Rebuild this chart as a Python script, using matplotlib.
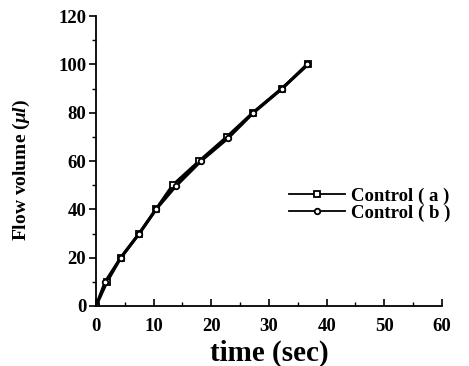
import numpy as np
import matplotlib.pyplot as plt
from matplotlib.ticker import MultipleLocator

plt.rcParams["font.family"] = "Liberation Serif"
plt.rcParams["font.weight"] = "bold"
plt.rcParams["mathtext.fontset"] = "custom"
plt.rcParams["mathtext.it"] = "Liberation Serif:italic:bold"
plt.rcParams["mathtext.rm"] = "Liberation Serif:bold"

# Flow volume vs time, two control runs
time_a = [0, 1.9, 4.3, 7.5, 10.4, 13.3, 17.9, 22.7, 27.2, 32.2, 36.8]
vol_a = [0, 10, 20, 30, 40, 50, 60, 70, 80, 90, 100]
time_b = [0, 1.6, 4.3, 7.5, 10.4, 13.8, 18.2, 22.9, 27.3, 32.3, 36.6]
vol_b = [0, 10, 20, 30, 40, 49.5, 60, 69.5, 80, 90, 100]

fig = plt.figure(figsize=(4.69, 3.66), dpi=100)
ax = fig.add_axes([0.2047, 0.164, 0.7377, 0.792])

ax.plot(time_a, vol_a, color="black", linewidth=2.2, marker="s", markersize=5,
        markerfacecolor="white", markeredgewidth=1.3, label="Control ( a )")
ax.plot(time_b, vol_b, color="black", linewidth=2.2, marker="o", markersize=4,
        markerfacecolor="white", markeredgewidth=1.3, label="Control ( b )")

ax.set_xlim(0, 60)
ax.set_ylim(0, 120)
ax.xaxis.set_major_locator(MultipleLocator(10))
ax.xaxis.set_minor_locator(MultipleLocator(5))
ax.yaxis.set_major_locator(MultipleLocator(20))
ax.yaxis.set_minor_locator(MultipleLocator(10))

for s in ["top", "right"]:
    ax.spines[s].set_visible(False)
for s in ["left", "bottom"]:
    ax.spines[s].set_linewidth(1.3)

ax.tick_params(axis="x", which="major", direction="in", length=5, width=1.2,
               labelsize=13.5, pad=9)
ax.tick_params(axis="x", which="minor", direction="in", length=3, width=1)
ax.tick_params(axis="y", which="major", direction="out", length=5, width=1.2,
               labelsize=13.5, pad=2)
ax.tick_params(axis="y", which="minor", direction="out", length=3, width=1)

ax.set_xlabel("time (sec)", fontsize=21, fontweight="bold")
ax.xaxis.set_label_coords(0.5, -0.115)
ax.set_ylabel("Flow volume ($μl$)", fontsize=14, fontweight="bold")
ax.yaxis.set_label_coords(-0.185, 0.47)

leg = ax.legend(loc="center left", bbox_to_anchor=(0.53, 0.35), frameon=False,
                fontsize=13.5, handlelength=3, handletextpad=0.3,
                labelspacing=0.0, borderpad=0)
for h in leg.legend_handles:
    h.set_linewidth(1.3)

fig.savefig("out.png", dpi=100)
